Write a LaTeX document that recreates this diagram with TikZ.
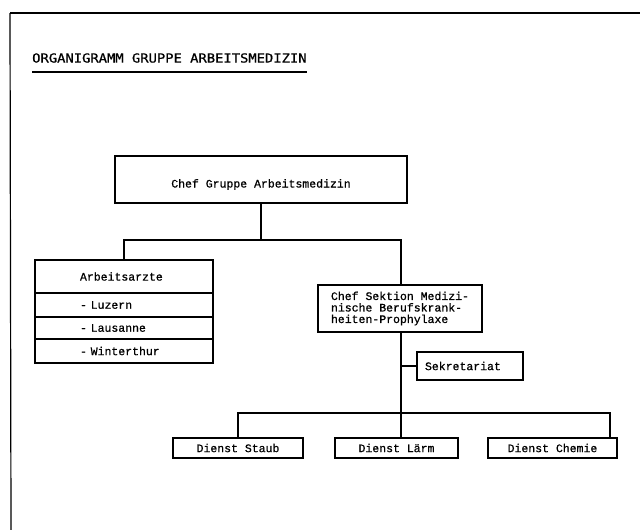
\documentclass[tikz,border=0pt]{standalone}
\usepackage{fontspec}
\newfontfamily\boxfont[FakeBold=0.7]{Liberation Mono}
\newfontfamily\titlefont[FakeBold=0.8]{DejaVu Sans Mono}
\begin{document}
\begin{tikzpicture}[x=1pt,y=-1pt,
  orgbox/.style={draw, line width=1.6pt, rectangle, inner ysep=0pt,
    font=\boxfont\fontsize{11.5}{11.5}\selectfont},
  rowbox/.style={orgbox, minimum width=178pt, text width=88pt, inner xsep=45pt, align=left},
  conn/.style={line width=1.6pt},
  frameline/.style={line width=1.2pt}]
\useasboundingbox (0,0) rectangle (640,530);
% frame
\coordinate (ftl) at (10,13);
\coordinate (ftr) at (640,13);
\coordinate (fbl) at (11,530);
\draw[frameline] (ftl) -- (ftr);
\draw[frameline] (ftl) -- (fbl);
% title
\node[anchor=west, inner sep=0pt, font=\titlefont\fontsize{12.5}{14}\selectfont] (title) at (32,58)
  {\scalebox{1.105}[1]{ORGANIGRAMM GRUPPE ARBEITSMEDIZIN}};
\draw[line width=1.2pt] (title.west |- 0,72) -- (title.east |- 0,72);
% boxes
\node[orgbox, minimum width=292pt, minimum height=47pt] (top) at (261,179.5)
  {\raisebox{-4pt}[8pt][0pt]{Chef Gruppe Arbeitsmedizin}};
\node[rowbox, minimum height=33pt] (arb) at (124,276.5) {Arbeitsarzte};
\node[rowbox, minimum height=24pt] (luz) at (124,305) {- Luzern};
\node[rowbox, minimum height=22pt] (lau) at (124,328) {- Lausanne};
\node[rowbox, minimum height=24pt] (win) at (124,351) {- Winterthur};
\node[orgbox, minimum width=164pt, minimum height=47pt, align=left] (sek) at (400,308.5)
  {Chef Sektion Medizi-\\nische Berufskrank-\\heiten-Prophylaxe};
\node[orgbox, minimum width=106pt, minimum height=28pt, text width=90pt, inner xsep=8pt, align=left] (sekr) at (470,366) {Sekretariat};
\node[orgbox, minimum width=130pt, minimum height=20pt] (staub) at (238,448) {Dienst Staub};
\node[orgbox, minimum width=123pt, minimum height=20pt] (laerm) at (396.5,448) {Dienst Lärm};
\node[orgbox, minimum width=129pt, minimum height=20pt] (chemie) at (552.5,448) {Dienst Chemie};
% connectors
\coordinate (bus1) at (0,240);
\coordinate (bus2) at (0,413);
\coordinate (sekdrop) at (401,0);
\coordinate (chemdrop) at (610,0);
\draw[conn] (top.south) -- (top.south |- bus1);
\draw[conn] (arb.north) -- (arb.north |- bus1) -- (sekdrop |- bus1) -- (sekdrop |- sek.north);
\draw[conn] (sekdrop |- sek.south) -- (sekdrop |- bus2);
\draw[conn] (sekr.west) -- (sekr.west -| sekdrop);
\draw[conn] (staub.north) -- (staub.north |- bus2) -- (chemdrop |- bus2) -- (chemdrop |- chemie.north);
\draw[conn] (sekdrop |- bus2) -- (sekdrop |- laerm.north);
\end{tikzpicture}
\end{document}
